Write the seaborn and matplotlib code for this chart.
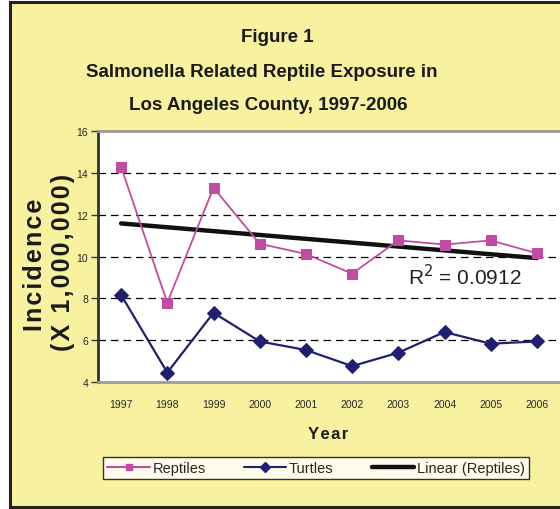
import numpy as np
import pandas as pd
import matplotlib
matplotlib.use("Agg")
import matplotlib.pyplot as plt
import seaborn as sns
from matplotlib.patches import Rectangle
from matplotlib.lines import Line2D

# Data
years = ["1997", "1998", "1999", "2000", "2001", "2002", "2003", "2004", "2005", "2006"]
reptiles = [14.28, 7.79, 13.29, 10.61, 10.12, 9.18, 10.77, 10.57, 10.77, 10.15]
turtles = [8.16, 4.45, 7.31, 5.94, 5.53, 4.76, 5.40, 6.39, 5.83, 5.94]
y_ticks = [4, 6, 8, 10, 12, 14, 16]
r2_label = "R$^2$ = 0.0912"

sns.set_theme(style="white")
plt.rcParams["font.family"] = ["Liberation Sans", "DejaVu Sans"]

YELLOW = "#F8F2A0"
PINK = "#C04DA2"
NAVY = "#1F2070"

df = pd.DataFrame({"pos": np.arange(len(years)), "year": years,
                   "Reptiles": reptiles, "Turtles": turtles})

# linear trend of reptiles
slope, intercept = np.polyfit(df["pos"], df["Reptiles"], 1)
df["Trend"] = intercept + slope * df["pos"]

fig = plt.figure(figsize=(5.6, 5.1), dpi=100)
fig.patch.set_facecolor("white")

# yellow chart frame
fig.patches.append(Rectangle((9.5 / 560, 2 / 510), 1.2, 505 / 510, transform=fig.transFigure,
                             facecolor=YELLOW, edgecolor="#222222", linewidth=2.2, zorder=-10))

ax = fig.add_axes([98 / 560, 1 - 383 / 510, 462 / 560, 251 / 510])
ax.set_facecolor("white")

sns.lineplot(data=df, x="pos", y="Trend", ax=ax, color="#111111", linewidth=3.2, zorder=3)
sns.lineplot(data=df, x="pos", y="Reptiles", ax=ax, color=PINK, linewidth=1.3,
             marker="s", markersize=7, markeredgecolor=PINK, zorder=4)
sns.lineplot(data=df, x="pos", y="Turtles", ax=ax, color=NAVY, linewidth=1.6,
             marker="D", markersize=7.5, markeredgecolor=NAVY, zorder=4)

ax.set_xlim(-0.5, len(years) - 0.5)
ax.set_ylim(4, 16)
ax.set_yticks(y_ticks)
ax.set_yticklabels([str(t) for t in y_ticks], fontsize=7.5)
for t in y_ticks[1:-1]:
    ax.axhline(t, color="black", linewidth=0.9, linestyle=(0, (6, 4)), zorder=1)

# category labels centred, ticks at boundaries
ax.set_xticks(df["pos"])
ax.set_xticklabels(years, fontsize=7.5)
ax.set_xticks(np.arange(len(years) + 1) - 0.5, minor=True)
ax.tick_params(axis="x", which="major", length=0, pad=12)
ax.tick_params(axis="x", which="minor", length=5, width=1, color="#555555", direction="out")
ax.tick_params(axis="y", length=5, width=1, color="#333333", direction="out", left=True, pad=2)

for side in ["top", "bottom"]:
    ax.spines[side].set_color("#9a9a9a")
    ax.spines[side].set_linewidth(2)
ax.spines["left"].set_color("#333333")
ax.spines["left"].set_linewidth(2)
ax.spines["right"].set_visible(False)

ax.set_xlabel("")
ax.set_ylabel("")

ax.text(7.45, 9.1, r2_label, fontsize=15, ha="center", va="center", color="#222222", zorder=5)

# titles
title_font = dict(fontsize=13.5, fontweight="bold", ha="center", va="center", color="#1a1a1a")
fig.text(277 / 560, 1 - 37 / 510, "Figure 1", **title_font)
fig.text(262 / 560, 1 - 73 / 510, "Salmonella Related Reptile Exposure in", **title_font)
fig.text(268 / 560, 1 - 106 / 510, "Los Angeles County, 1997-2006", **title_font)

hs = "\u200a"
fig.text(35 / 560, 1 - 265 / 510, hs.join("Incidence"), rotation=90, fontsize=18,
         fontweight="bold", ha="center", va="center", color="#1a1a1a")
fig.text(63 / 560, 1 - 262 / 510, hs.join("(X 1,000,000)"), rotation=90, fontsize=18,
         fontweight="bold", ha="center", va="center", color="#1a1a1a")
fig.text(328 / 560, 1 - 435 / 510, hs.join("Year"), fontsize=12, fontweight="bold",
         ha="center", va="center", color="#1a1a1a")

handles = [
    Line2D([], [], color=PINK, linewidth=1.5, marker="s", markersize=5),
    Line2D([], [], color=NAVY, linewidth=1.5, marker="D", markersize=5),
    Line2D([], [], color="#111111", linewidth=3.2),
]
leg = fig.legend(handles, ["Reptiles", "Turtles", "Linear (Reptiles)"], loc="center",
                 bbox_to_anchor=(316 / 560, 1 - 469 / 510), ncol=3, fontsize=10.5,
                 frameon=True, fancybox=False, edgecolor="black", handlelength=2.9,
                 columnspacing=2.6, handletextpad=0.2, borderpad=0.3)
leg.get_frame().set_linewidth(1)
leg.get_frame().set_facecolor("white")

fig.savefig("out.png", dpi=100, facecolor=fig.get_facecolor())
